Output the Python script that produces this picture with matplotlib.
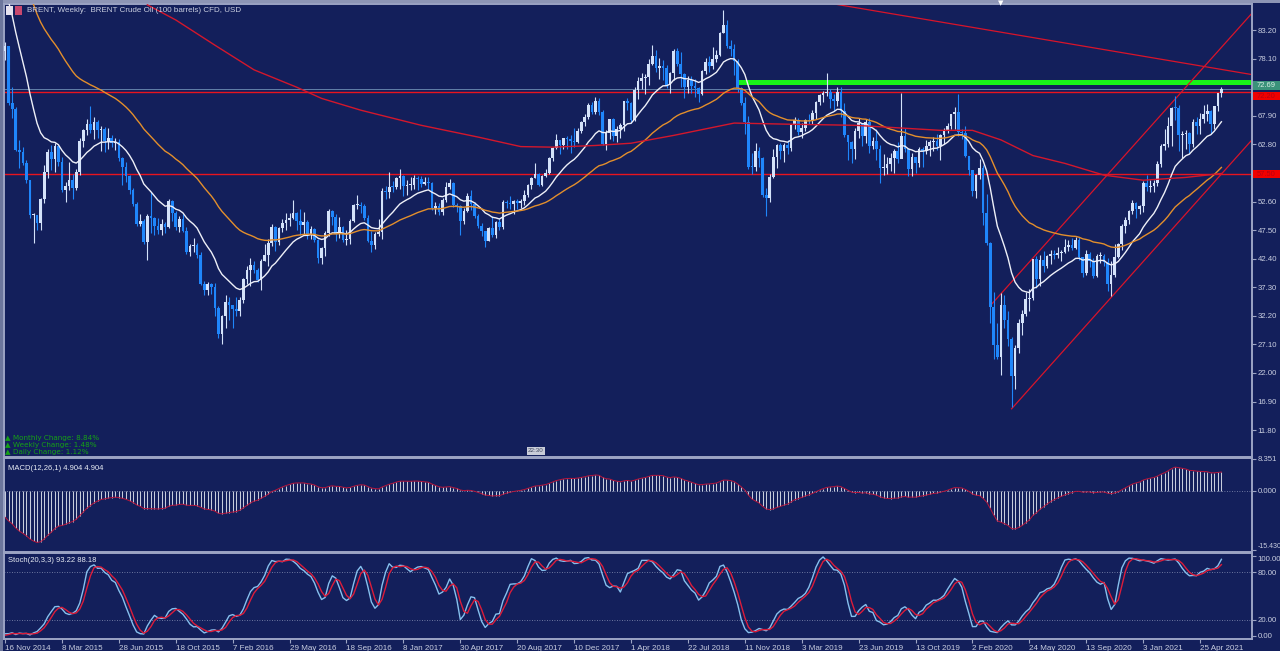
import numpy as np
import pandas as pd
import matplotlib
matplotlib.use("Agg")
import matplotlib.pyplot as plt
import matplotlib.transforms as mtransforms
from matplotlib.patches import Rectangle

# weekly candles, week starting Sunday 16 Nov 2014, close = Friday close
start = pd.Timestamp("2014-11-16")

# weekly closes before the visible range (Jan - Nov 2014), only used to warm up the indicators
pre_close = [107.9, 107.3, 106.5, 107.9, 106.4, 109.6, 109.1, 110.0, 109.1, 108.9, 108.5, 106.9,
             107.9, 106.7, 107.3, 109.5, 109.6, 108.6, 108.0, 109.8, 110.5, 109.4, 108.6, 113.4,
             114.8, 113.3, 110.6, 106.7, 107.2, 108.4, 105.0, 105.0, 103.5, 102.3, 103.2, 100.8,
             97.1, 98.4, 97.0, 92.3, 90.2, 86.2, 86.1, 85.9, 83.4, 79.41]

close = [
    # 2014
    80.36, 70.15, 69.07, 61.85, 61.38, 59.45,
    # 2015
    56.42, 50.11, 50.17, 48.79, 52.99, 57.80, 61.52, 60.22, 62.58, 59.73, 54.67, 55.32, 56.41,
    54.95, 57.87, 63.45, 65.28, 66.46, 65.39, 66.81, 65.37, 65.56, 63.31, 63.87, 63.02, 63.26,
    60.32, 58.73, 57.10, 54.62, 52.21, 48.61, 49.19, 45.46, 50.05, 49.61, 48.14, 47.47, 48.60,
    48.13, 52.65, 50.46, 47.99, 49.56, 47.42, 43.61, 44.66, 44.86, 43.00, 37.93, 36.88, 37.89,
    # 2016
    37.28, 33.55, 28.94, 32.18, 34.74, 34.06, 33.36, 33.01, 35.10, 38.72, 40.39, 41.20, 40.44,
    38.67, 41.94, 43.10, 45.11, 48.13, 45.37, 47.83, 48.72, 49.32, 49.64, 50.54, 49.17, 48.41,
    48.99, 46.76, 47.61, 45.69, 42.46, 44.27, 46.97, 50.88, 49.92, 46.83, 48.01, 45.77, 45.89,
    49.06, 51.93, 51.95, 51.78, 49.71, 45.58, 44.75, 46.86, 47.24, 54.46, 54.33, 55.21, 55.16, 56.82,
    # 2017
    57.10, 55.45, 55.49, 55.52, 56.81, 56.70, 55.81, 56.01, 55.90, 51.37, 51.76, 50.80, 52.83,
    55.24, 55.89, 51.96, 51.73, 49.10, 50.84, 53.61, 52.15, 49.95, 48.15, 47.37, 45.54, 47.92,
    46.71, 48.91, 48.06, 52.52, 52.42, 52.10, 52.72, 52.41, 52.75, 53.78, 55.62, 56.86, 57.54,
    55.62, 57.17, 57.75, 60.44, 62.07, 63.52, 62.72, 63.86, 63.73, 63.40, 63.23, 65.25, 66.87,
    # 2018
    67.62, 69.87, 68.61, 70.52, 68.58, 62.79, 64.84, 67.31, 64.37, 65.49, 66.21, 70.45, 70.27,
    67.11, 72.58, 74.06, 74.64, 74.87, 77.12, 78.51, 76.44, 76.79, 76.46, 73.44, 75.55, 79.44,
    77.11, 75.33, 73.07, 74.29, 73.21, 72.81, 71.83, 75.82, 77.42, 76.83, 78.09, 78.80, 82.72,
    84.16, 80.43, 79.78, 77.62, 72.83, 70.18, 66.76, 58.80, 58.71, 61.67, 60.28, 53.82, 53.21,
    # 2019
    57.06, 60.48, 62.70, 61.64, 62.75, 62.10, 66.25, 67.12, 65.07, 65.74, 67.16, 67.03, 68.39,
    70.34, 71.55, 71.97, 72.15, 70.85, 70.62, 72.21, 68.69, 64.49, 63.29, 62.01, 65.20, 66.55,
    64.23, 66.72, 62.47, 63.46, 61.89, 58.53, 58.64, 59.34, 60.43, 61.54, 60.22, 64.28, 61.91,
    58.37, 60.51, 59.42, 62.02, 61.69, 62.51, 63.30, 63.39, 62.43, 64.39, 65.22, 66.14, 68.16,
    # 2020
    68.60, 64.98, 64.85, 60.69, 58.16, 54.47, 57.32, 58.50, 50.52, 45.27, 33.85, 26.98, 24.93,
    34.11, 31.48, 28.08, 21.44, 26.44, 30.97, 32.50, 35.13, 35.33, 42.30, 38.73, 42.19, 41.02,
    42.80, 43.24, 43.14, 43.34, 43.52, 44.40, 44.80, 44.35, 45.81, 42.66, 39.83, 43.15, 41.92,
    39.27, 42.85, 42.93, 41.77, 37.94, 39.45, 42.78, 44.96, 48.18, 49.25, 50.97, 52.26, 51.29,
    # 2021
    51.80, 55.99, 55.10, 55.41, 55.88, 59.34, 62.43, 62.91, 66.13, 69.36, 69.22, 64.53, 64.57,
    64.86, 62.95, 66.77, 66.11, 67.25, 68.28, 68.71, 66.44, 69.63, 71.89, 72.69,
]

high = [
    81.0, 80.4, 73.0, 69.5, 63.5, 62.3,
    60.0, 56.5, 50.6, 50.2, 53.2, 59.1, 61.9, 62.6, 63.0, 62.7, 60.5, 56.0, 59.7,
    57.5, 58.4, 63.9, 65.5, 67.3, 69.6, 67.6, 67.1, 66.1, 65.9, 65.8, 64.5, 64.0,
    63.8, 60.5, 59.6, 57.3, 55.0, 52.5, 50.3, 49.5, 50.3, 54.3, 49.9, 49.6, 49.5,
    48.9, 53.1, 52.8, 50.9, 50.0, 50.3, 48.0, 45.0, 46.0, 45.2, 43.6, 38.5, 38.2,
    38.1, 38.0, 33.9, 32.3, 36.0, 35.6, 34.0, 35.5, 35.6, 38.9, 41.0, 42.5, 41.9,
    40.7, 42.3, 45.0, 45.9, 48.5, 48.3, 48.1, 49.5, 50.5, 50.6, 52.9, 50.8, 51.3,
    50.8, 49.3, 48.3, 47.8, 45.9, 44.5, 47.3, 51.2, 51.1, 50.4, 49.9, 48.2, 47.6,
    49.4, 52.2, 53.7, 52.6, 52.2, 50.2, 47.3, 47.2, 49.5, 55.0, 55.3, 57.9, 56.3, 57.0,
    58.4, 57.3, 56.4, 57.0, 57.3, 57.1, 57.2, 57.0, 56.9, 56.1, 52.5, 52.4, 53.2,
    56.1, 56.7, 56.1, 52.3, 52.0, 51.4, 54.1, 54.7, 52.6, 50.4, 48.8, 47.4, 48.1,
    50.0, 49.1, 49.7, 52.8, 52.9, 53.6, 52.9, 53.1, 53.1, 54.7, 55.8, 56.9, 59.5,
    57.6, 57.3, 58.4, 60.5, 62.3, 64.6, 63.5, 64.0, 64.3, 64.4, 65.8, 65.8, 67.0,
    68.3, 70.1, 70.4, 71.3, 71.0, 69.0, 65.3, 67.4, 67.5, 66.1, 66.6, 70.6, 71.0,
    70.3, 73.1, 74.8, 75.5, 75.3, 78.0, 80.5, 79.6, 78.3, 77.8, 77.0, 75.7, 79.9,
    80.0, 79.3, 75.5, 75.0, 75.0, 74.5, 73.0, 76.0, 78.2, 78.5, 80.1, 79.6, 82.9,
    86.7, 85.0, 81.5, 80.8, 78.0, 73.1, 71.2, 67.9, 61.2, 63.0, 62.3, 60.5, 55.0,
    57.5, 61.9, 62.9, 63.0, 63.0, 63.6, 66.4, 67.7, 67.5, 66.6, 67.4, 68.2, 69.0,
    70.5, 71.8, 72.3, 75.6, 72.7, 71.7, 73.0, 73.0, 70.1, 64.5, 63.4, 65.7, 67.5,
    66.6, 67.3, 67.5, 64.2, 65.5, 62.6, 61.1, 60.6, 61.2, 62.0, 63.2, 71.9, 65.8,
    62.1, 61.3, 60.5, 62.3, 62.3, 63.5, 63.6, 64.2, 64.7, 64.6, 65.8, 66.6, 68.2,
    69.5, 71.8, 65.6, 66.0, 60.7, 58.3, 57.5, 60.1, 59.1, 53.9, 45.3, 36.4, 31.0,
    36.3, 36.0, 33.0, 28.5, 27.0, 31.6, 33.2, 36.4, 37.0, 42.4, 42.9, 43.0, 43.8,
    43.0, 43.9, 43.9, 44.4, 44.0, 45.9, 45.8, 46.0, 46.2, 46.2, 42.6, 43.9, 43.5,
    42.5, 43.2, 43.5, 43.2, 42.5, 42.0, 45.0, 45.2, 48.5, 49.9, 51.1, 52.8, 52.5,
    52.0, 56.3, 57.4, 56.5, 56.5, 59.8, 62.8, 65.5, 67.7, 69.4, 71.4, 69.9, 65.2,
    65.4, 65.0, 67.4, 67.6, 68.4, 69.8, 70.0, 69.0, 69.7, 71.9, 73.1,
]

low = [
    77.9, 69.8, 67.5, 61.6, 58.5, 59.2,
    55.9, 49.7, 45.2, 47.5, 47.6, 52.4, 56.8, 58.2, 57.8, 59.0, 54.3, 52.5, 54.7,
    53.0, 54.6, 57.4, 62.3, 64.5, 64.9, 63.8, 64.0, 61.6, 61.4, 62.0, 62.3, 61.8,
    59.8, 55.5, 56.0, 54.0, 51.8, 48.3, 48.2, 45.1, 42.2, 47.0, 46.6, 46.8, 46.6,
    46.9, 47.8, 49.2, 47.5, 47.2, 47.1, 43.2, 42.8, 43.6, 42.5, 37.7, 36.0, 36.0,
    36.1, 32.2, 28.2, 27.1, 30.0, 31.5, 30.0, 32.2, 32.2, 34.5, 37.9, 37.5, 39.8,
    38.3, 36.8, 41.9, 41.0, 44.7, 43.7, 44.9, 47.2, 47.6, 48.2, 49.5, 47.5, 46.6,
    46.7, 45.9, 45.9, 45.4, 41.7, 41.5, 42.9, 46.5, 48.4, 45.6, 46.0, 45.3, 44.8,
    45.0, 48.9, 51.2, 50.5, 49.3, 45.4, 43.5, 44.2, 46.4, 45.9, 53.1, 53.2, 54.3, 54.9,
    54.8, 53.6, 53.7, 54.6, 54.8, 54.6, 55.2, 55.6, 54.9, 51.0, 50.3, 50.2, 50.2,
    52.6, 54.8, 51.6, 50.7, 46.6, 48.6, 50.7, 51.0, 49.6, 47.8, 46.4, 44.4, 45.5,
    46.2, 46.1, 47.6, 47.7, 51.4, 51.3, 50.3, 51.3, 51.5, 52.0, 53.4, 54.9, 56.8,
    55.3, 55.4, 56.9, 57.5, 59.9, 61.9, 61.1, 61.9, 61.9, 61.3, 62.3, 63.1, 64.9,
    66.1, 67.4, 68.3, 68.2, 68.1, 62.6, 61.8, 63.8, 63.4, 63.3, 63.9, 65.2, 68.9,
    66.7, 66.9, 70.9, 72.6, 71.7, 73.4, 77.0, 75.8, 74.5, 74.3, 72.9, 71.9, 74.3,
    76.8, 73.1, 71.1, 72.0, 71.9, 71.3, 70.3, 71.6, 75.4, 75.8, 76.3, 77.5, 78.6,
    82.6, 80.0, 78.6, 75.1, 72.2, 69.9, 64.6, 58.4, 57.5, 58.1, 58.8, 53.4, 50.0,
    52.6, 56.8, 58.6, 60.1, 59.7, 61.0, 61.7, 65.6, 64.4, 64.0, 65.2, 66.4, 66.5,
    67.4, 69.8, 70.3, 71.4, 69.3, 68.7, 69.6, 67.7, 64.2, 60.0, 59.5, 60.2, 64.0,
    62.5, 63.1, 61.3, 61.9, 60.0, 55.9, 57.4, 57.5, 58.0, 57.7, 59.5, 62.3, 61.4,
    57.1, 57.2, 57.7, 58.8, 58.8, 61.0, 60.8, 61.6, 61.8, 60.0, 62.9, 64.8, 65.5,
    65.6, 64.3, 63.7, 60.5, 57.3, 53.5, 53.3, 56.6, 48.4, 44.9, 31.0, 24.5, 24.5,
    21.7, 30.0, 26.8, 15.98, 19.2, 25.6, 28.8, 32.1, 33.1, 35.0, 37.1, 37.5, 40.0,
    40.8, 41.5, 42.3, 42.5, 42.0, 43.4, 43.8, 43.9, 44.2, 42.2, 39.2, 39.5, 40.9,
    38.9, 39.1, 41.6, 41.1, 36.6, 35.8, 39.2, 42.5, 44.0, 46.9, 48.6, 50.4, 49.6,
    50.4, 50.7, 54.4, 54.3, 54.3, 55.4, 58.7, 61.8, 62.4, 62.5, 67.2, 61.6, 60.3,
    61.9, 61.3, 62.3, 64.6, 64.6, 66.7, 67.0, 64.6, 65.6, 68.8, 71.2,
]

# long red moving average
ma_red_dates = ["2015-08-23", "2015-10-18", "2016-01-03", "2016-03-20", "2016-06-12", "2016-07-31",
                "2016-10-16", "2017-02-12", "2017-06-04", "2017-08-27", "2017-10-29", "2018-01-21",
                "2018-04-01", "2018-06-24", "2018-10-21", "2019-02-03", "2019-06-16", "2019-12-01",
                "2020-02-02", "2020-03-29", "2020-05-31", "2020-08-02", "2020-10-18", "2021-01-03",
                "2021-03-28", "2021-06-06"]
ma_red_values = [87.7, 85.0, 80.5, 76.1, 73.0, 71.0, 68.9, 66.2, 64.1, 62.4, 62.3, 62.6, 63.0,
                 64.4, 66.6, 66.4, 66.2, 65.3, 65.3, 63.6, 60.8, 59.4, 57.3, 56.4, 56.9, 57.6]

# drawn objects (levels and trend lines)
green_level = 74.0
green_from = "2018-10-28"
red_levels = [72.2, 57.5]
channel_upper = (["2020-03-08", "2021-08-15"], [34.0, 87.2])
channel_lower = (["2020-04-19", "2021-08-15"], [15.6, 64.6])
down_line = (["2019-03-31", "2021-08-15"], [88.4, 75.1])

xtick_labels = ["16 Nov 2014", "8 Mar 2015", "28 Jun 2015", "18 Oct 2015", "7 Feb 2016",
                "29 May 2016", "18 Sep 2016", "8 Jan 2017", "30 Apr 2017", "20 Aug 2017",
                "10 Dec 2017", "1 Apr 2018", "22 Jul 2018", "11 Nov 2018", "3 Mar 2019",
                "23 Jun 2019", "13 Oct 2019", "2 Feb 2020", "24 May 2020", "13 Sep 2020",
                "3 Jan 2021", "25 Apr 2021"]
price_ticks = [11.80, 16.90, 22.00, 27.10, 32.20, 37.30, 42.40, 47.50, 52.60, 57.70,
               62.80, 67.90, 73.00, 78.10, 83.20]
macd_ticks = [8.351, 0.0, -15.430]
stoch_ticks = [100, 80, 20, 0]


def wk(d):
    return (pd.Timestamp(d) - start).days / 7.0


n_pre = len(pre_close)
c_all = pd.Series(pre_close + close)
h_all = pd.Series(pre_close + high)
l_all = pd.Series(pre_close + low)

ema_white = c_all.ewm(span=15, adjust=False).mean().values[n_pre:]
ema_orange = c_all.ewm(span=45, adjust=False).mean().values[n_pre:]
macd = (c_all.ewm(span=12, adjust=False).mean() - c_all.ewm(span=26, adjust=False).mean()).values[n_pre:]

hh = h_all.rolling(20, min_periods=1).max()
ll = l_all.rolling(20, min_periods=1).min()
stk = 100 * (c_all - ll).rolling(3, min_periods=1).sum() / (hh - ll).rolling(3, min_periods=1).sum()
std = stk.rolling(3, min_periods=1).mean()
stk = stk.values[n_pre:]
std = std.values[n_pre:]

c = np.array(close)
o = np.array([pre_close[-1]] + close[:-1])
h = np.array(high)
l = np.array(low)
x = np.arange(len(c))
up = c >= o

# colours
bg = "#131f5b"
frame = "#9ca4c4"
txt = "#c9cee0"
up_col = "#d4e2fa"
dn_col = "#1f86fb"

W, H = 1280, 651
fig = plt.figure(figsize=(W / 100, H / 100), dpi=100, facecolor=bg)


def box(top, bottom):
    return [4 / W, 1 - bottom / H, (1252 - 4) / W, (bottom - top) / H]


ax = fig.add_axes(box(4, 457))
axm = fig.add_axes(box(458, 552))
axs = fig.add_axes(box(553, 639))

xl = (-0.3, 350.6)
for a in (ax, axm, axs):
    a.set_facecolor(bg)
    a.set_xlim(*xl)
    for s in a.spines.values():
        s.set_color(frame)
        s.set_linewidth(1.4)
    a.yaxis.tick_right()
    a.tick_params(axis="y", colors=frame, labelcolor=txt, labelsize=5.6, length=3, width=0.8, pad=1)
    a.tick_params(axis="x", bottom=False, labelbottom=False)

# ---- main price panel
ax.set_ylim(7.0, 87.85)
ax.set_yticks(price_ticks)
ax.set_yticklabels([f"{v:.2f}" for v in price_ticks], family="Liberation Sans")
# the two scale labels sitting under the price boxes are hidden in the terminal
for lab, v in zip(ax.get_yticklabels(), price_ticks):
    if v in (57.70, 73.00):
        lab.set_visible(False)

ax.vlines(x[up], l[up], h[up], color=up_col, lw=0.8, zorder=3)
ax.vlines(x[~up], l[~up], h[~up], color=dn_col, lw=0.8, zorder=3)
body_lo = np.minimum(o, c)
body_h = np.maximum(np.abs(c - o), 0.18)
ax.bar(x[up], body_h[up], bottom=body_lo[up], width=0.75, color=up_col, lw=0, zorder=3)
ax.bar(x[~up], body_h[~up], bottom=body_lo[~up], width=0.75, color=dn_col, lw=0, zorder=3)

ax.plot(x, ema_white, color="#eef0f8", lw=1.0, zorder=4)
ax.plot(x, ema_orange, color="#e38f2c", lw=1.0, zorder=4)
ax.plot([wk(d) for d in ma_red_dates], ma_red_values, color="#d3172c", lw=1.0, zorder=4)

for lv in red_levels:
    ax.axhline(lv, color="#e8141e", lw=1.0, zorder=2)
ax.axhline(c[-1], color="#6f8fb4", lw=0.6, zorder=2)
ax.plot([wk(green_from), xl[1]], [green_level, green_level], color="#19f219", lw=3.6,
        solid_capstyle="butt", zorder=2)
for d, v in (channel_upper, channel_lower, down_line):
    ax.plot([wk(s) for s in d], v, color="#d8142a", lw=0.9, zorder=2)

# price boxes on the right scale
trans = mtransforms.blended_transform_factory(ax.transAxes, ax.transData)
box_w = (W - 1253) / (1252 - 4)
box_h = 8.0 / 5.59


def price_box(val, y0, fc, tc):
    ax.add_patch(Rectangle((1.0008, y0), box_w, box_h, transform=trans, fc=fc, ec="none",
                           clip_on=False, zorder=6))
    ax.text(1.0035, y0 + box_h / 2, f"{val:.2f}", transform=trans, ha="left", va="center",
            fontsize=5.4, color=tc, family="Liberation Sans", clip_on=False, zorder=7)


price_box(c[-1], c[-1] - 0.1, "#3a927a", "#d8f0e4")
price_box(red_levels[0], red_levels[0] - box_h - 0.1, "#f00000", "#b80010")
price_box(red_levels[1], red_levels[1] - box_h / 2, "#f00000", "#b80010")

# ---- MACD panel
axm.set_ylim(-15.96, 8.51)
axm.set_yticks(macd_ticks)
axm.set_yticklabels(["8.351", "0.000", "-15.430"], family="Liberation Sans")
lab_min = axm.get_yticklabels()[2]
lab_min.set_va("bottom")
lab_min.set_fontsize(5.0)
axm.axhline(0, color="#8a93b6", lw=0.6, ls=(0, (1, 2)))
axm.vlines(x, 0, macd, color="#c6ccdc", lw=0.75)
axm.plot(x, macd, color="#b8163c", lw=0.7)

# ---- Stochastic panel
axs.set_ylim(-3.8, 103.8)
axs.set_yticks(stoch_ticks)
axs.set_yticklabels(["100.00", "80.00", "20.00", "0.00"], family="Liberation Sans")
axs.get_yticklabels()[0].set_va("top")
for lv in (80, 20):
    axs.axhline(lv, color="#8a93b6", lw=0.6, ls=(0, (1, 2)))
axs.plot(x, stk, color="#86c0ee", lw=1.0)
axs.plot(x, std, color="#dc1c3a", lw=1.0)

xt = [wk(pd.to_datetime(s)) for s in xtick_labels]
axs.set_xticks(xt)
axs.set_xticklabels(xtick_labels, ha="left", family="Liberation Sans")
axs.tick_params(axis="x", bottom=True, labelbottom=True, colors=frame, labelcolor=txt,
                labelsize=5.8, length=3, width=0.8, pad=1)

# ---- frame and captions
fig.patches.append(Rectangle((0, 1 - 3 / H), 1, 3 / H, transform=fig.transFigure, fc="#8d95b5", ec="none"))
fig.patches.append(Rectangle((0, 0), 3 / W, 1, transform=fig.transFigure, fc="#6c769c", ec="none"))
fig.patches.append(Rectangle((6 / W, 1 - 15 / H), 7 / W, 9 / H, transform=fig.transFigure, fc="#e6e2ee", ec="none"))
fig.patches.append(Rectangle((15 / W, 1 - 15 / H), 7 / W, 9 / H, transform=fig.transFigure, fc="#c8486e", ec="none"))
fig.text(27 / W, 1 - 10 / H, "BRENT, Weekly:  BRENT Crude Oil (100 barrels) CFD, USD",
         color=txt, fontsize=5.8, family="Liberation Sans", va="center")
fig.text(1001 / W, 1 - 3 / H, "\u25bc", color="white", fontsize=5, ha="center", va="center")

info = ["\u25b2 Monthly Change: 8.84%", "\u25b2 Weekly Change: 1.48%", "\u25b2 Daily Change: 1.12%"]
for i, t in enumerate(info):
    fig.text(5 / W, 1 - (438 + 7 * i) / H, t, color="#16a016", fontsize=5.2, va="center",
             family="DejaVu Sans")
fig.text(536 / W, 1 - 451 / H, "22:30", color="#404860", fontsize=4.5, ha="center", va="center",
         family="Liberation Sans", bbox=dict(boxstyle="square,pad=0.2", fc="#c8ccd8", ec="none"))

axm.text(0.003, 0.93, "MACD(12,26,1) 4.904 4.904", transform=axm.transAxes, color="#e8ecf4",
         fontsize=5.5, family="Liberation Sans", va="top")
axs.text(0.003, 0.95, "Stoch(20,3,3) 93.22 88.18", transform=axs.transAxes, color="#e8ecf4",
         fontsize=5.5, family="Liberation Sans", va="top")

fig.savefig("out.png", dpi=100, facecolor=bg)
